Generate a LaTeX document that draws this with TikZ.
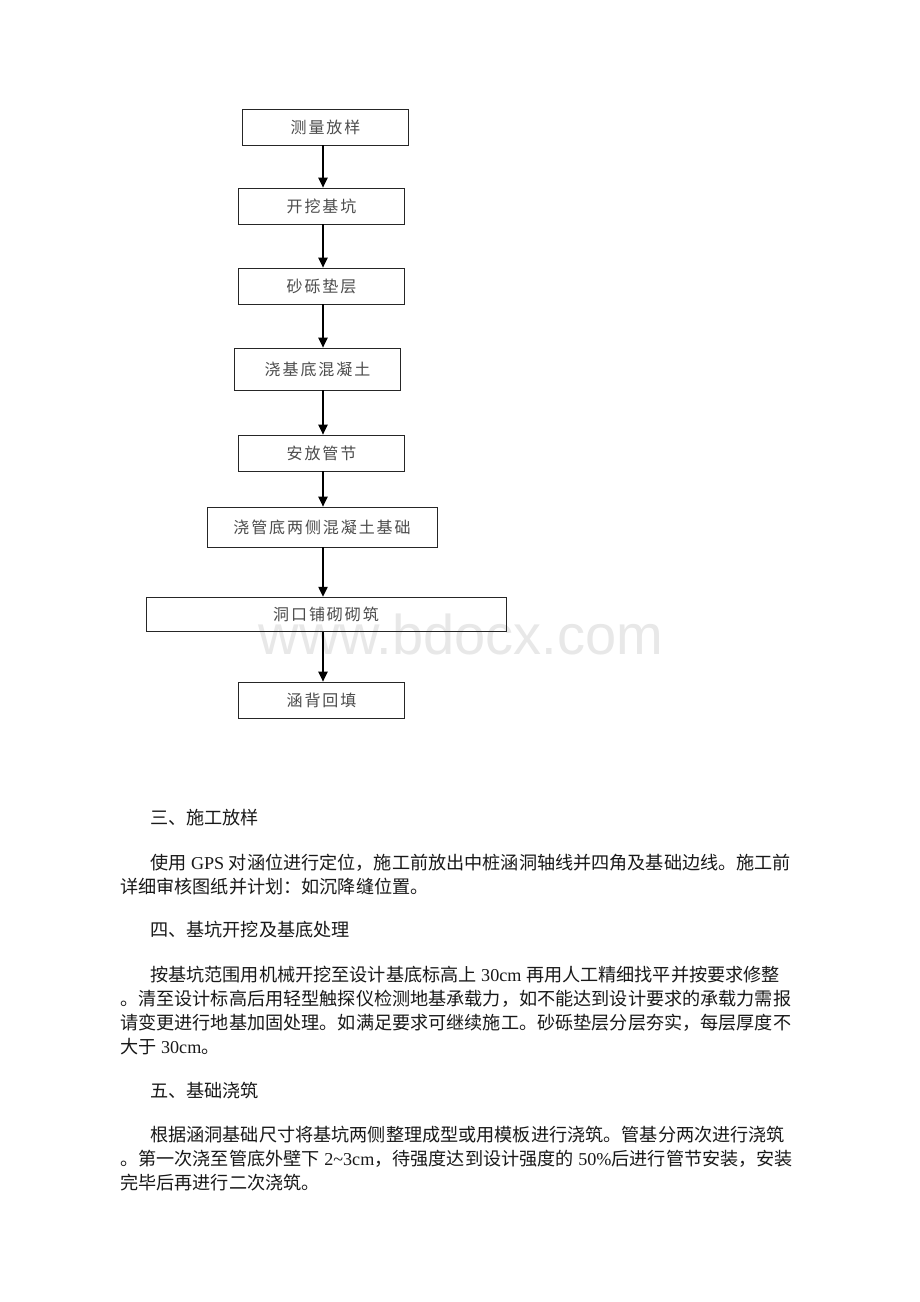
\documentclass[tikz,border=0pt]{standalone}
\usepackage{fontspec}
\setmainfont{Noto Sans CJK SC}
\newfontfamily\latin{Liberation Serif}
\newfontfamily\boxfont{Noto Sans CJK SC}[LetterSpace=12]
\newfontfamily\markfont{Liberation Sans}
\usetikzlibrary{arrows.meta}
\tikzset{>={Triangle[length=7.5pt,width=7pt]}}
\tikzset{stepbox/.style={draw=black!85, line width=0.6pt, minimum width=125pt,
    minimum height=27pt, inner sep=0pt, text=black!70,
    font=\boxfont\fontsize{12}{14}\selectfont},
  para/.style={anchor=west, inner sep=0pt, text=black!90, font=\fontsize{13.6}{16}\selectfont}}

\begin{document}
\begin{tikzpicture}[x=0.75pt,y=-0.75pt]
\fill[white] (0,0) rectangle (920,1302);
\useasboundingbox (0,0) rectangle (920,1302);
    %watermark
    \node[text=black!9, font=\markfont\fontsize{42}{42}\selectfont] (mark) at (461,634) {www.bdocx.com};
    %flow
    \coordinate (spine) at (323,0);
    \node[stepbox] (layout) at (325.5,127) {测量放样};
    \node[stepbox] (dig) at (321.5,206) {开挖基坑};
    \node[stepbox] (gravel) at (321.5,286) {砂砾垫层};
    \node[stepbox, minimum height=31.5pt] (base) at (317.5,369) {浇基底混凝土};
    \node[stepbox] (pipe) at (321.5,453) {安放管节};
    \node[stepbox, minimum width=172.5pt, minimum height=30pt] (sides) at (322,527) {浇管底两侧混凝土基础};
    \node[stepbox, minimum width=270pt, minimum height=26pt] (mouth) at (326,614.5) {洞口铺砌砌筑};
    \node[stepbox] (fill) at (321.5,700) {涵背回填};
    \foreach \a/\b in {layout/dig, dig/gravel, gravel/base, base/pipe, pipe/sides, sides/mouth, mouth/fill}
      \draw[->, line width=1pt] (\a.south -| spine) -- (\b.north -| spine);
    %text
    \node[para] (h3) at (150,818) {三、施工放样};
    \node[para] (p3a) at (150,863) {使用{\latin\ GPS }对涵位进行定位，施工前放出中桩涵洞轴线并四角及基础边线。施工前};
    \node[para] (p3b) at (120,887) {详细审核图纸并计划：如沉降缝位置。};
    \node[para] (h4) at (150,930) {四、基坑开挖及基底处理};
    \node[para] (p4a) at (150,975) {按基坑范围用机械开挖至设计基底标高上{\latin\ 30cm }再用人工精细找平并按要求修整};
    \node[para] (p4b) at (120,999) {。清至设计标高后用轻型触探仪检测地基承载力，如不能达到设计要求的承载力需报};
    \node[para] (p4c) at (120,1023) {请变更进行地基加固处理。如满足要求可继续施工。砂砾垫层分层夯实，每层厚度不};
    \node[para] (p4d) at (120,1047) {大于{\latin\ 30cm}。};
    \node[para] (h5) at (150,1091) {五、基础浇筑};
    \node[para] (p5a) at (150,1135) {根据涵洞基础尺寸将基坑两侧整理成型或用模板进行浇筑。管基分两次进行浇筑};
    \node[para] (p5b) at (120,1159) {。第一次浇至管底外壁下{\latin\ 2\textasciitilde 3cm}，待强度达到设计强度的{\latin\ 50\%}后进行管节安装，安装};
    \node[para] (p5c) at (120,1183) {完毕后再进行二次浇筑。};
\end{tikzpicture}
\end{document}
